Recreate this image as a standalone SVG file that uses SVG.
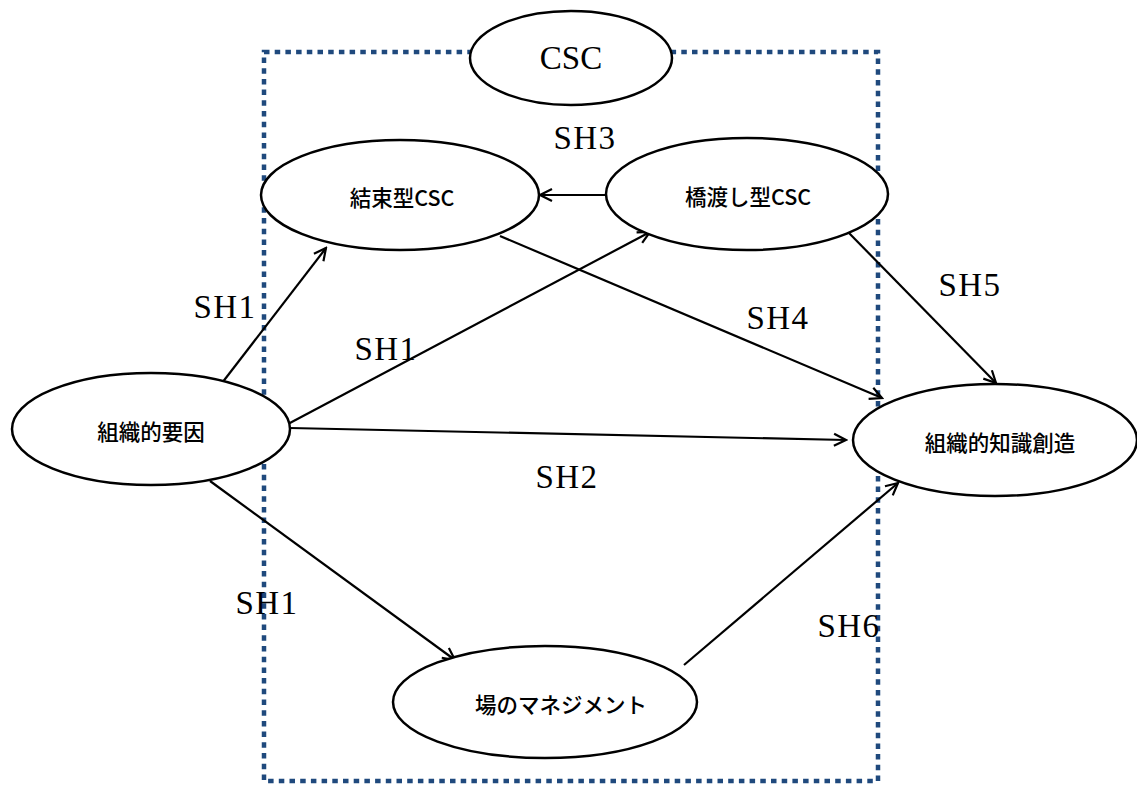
<svg xmlns="http://www.w3.org/2000/svg" width="1137" height="785" viewBox="0 0 1137 785">
<style>
.node ellipse{fill:#fff;stroke:#000;stroke-width:2.5}
.nt{font-family:"Noto Sans CJK JP","Noto Sans CJK SC",sans-serif;font-size:21.5px;font-weight:500;fill:#000;text-anchor:middle;dominant-baseline:central}
.lbl{font-family:"Liberation Serif",serif;font-size:33px;letter-spacing:1.5px;fill:#000;text-anchor:middle}
.conn line{stroke:#000;stroke-width:2.2;marker-end:url(#ah)}
</style>
<defs>
<marker id="ah" viewBox="0 0 16 16" refX="14" refY="8" markerWidth="16" markerHeight="16" markerUnits="userSpaceOnUse" orient="auto">
<path d="M2,2 L14,8 L2,14" fill="none" stroke="#000" stroke-width="2.2"/>
</marker>
</defs>
<rect x="264" y="52" width="614" height="729" fill="none" stroke="#1f497d" stroke-width="4.5" stroke-dasharray="5.5 5.2"/>
<g class="conn">
<line x1="222" y1="383" x2="326" y2="248"/>
<line x1="288" y1="424" x2="650" y2="232"/>
<line x1="290" y1="428" x2="846" y2="440"/>
<line x1="210" y1="481" x2="455" y2="660"/>
<line x1="606" y1="195" x2="540" y2="195"/>
<line x1="500" y1="236" x2="882" y2="398"/>
<line x1="848" y1="232" x2="996" y2="383"/>
<line x1="684" y1="665" x2="898" y2="483"/>
</g>
<g id="csc" class="node"><ellipse cx="571" cy="58" rx="101" ry="47"/><text x="571" y="69" class="lbl" style="letter-spacing:0">CSC</text></g>
<g id="ketsusoku" class="node"><ellipse cx="400" cy="195" rx="139" ry="55"/><text x="402" y="196" class="nt">結束型CSC</text></g>
<g id="hashiwatashi" class="node"><ellipse cx="747" cy="194" rx="141" ry="56"/><text x="748" y="195" class="nt">橋渡し型CSC</text></g>
<g id="soshikiyouin" class="node"><ellipse cx="151" cy="429" rx="139" ry="56"/><text x="151" y="430" class="nt">組織的要因</text></g>
<g id="chishiki" class="node"><ellipse cx="995" cy="440" rx="142" ry="56"/><text x="1000" y="441" class="nt">組織的知識創造</text></g>
<g id="ba" class="node"><ellipse cx="545" cy="702" rx="152" ry="56"/><text x="561" y="703" class="nt">場のマネジメント</text></g>
<g id="labels">
<text x="225" y="318" class="lbl">SH1</text>
<text x="386" y="360" class="lbl">SH1</text>
<text x="567" y="488" class="lbl">SH2</text>
<text x="267" y="614" class="lbl">SH1</text>
<text x="585" y="149" class="lbl">SH3</text>
<text x="778" y="329" class="lbl">SH4</text>
<text x="970" y="296" class="lbl">SH5</text>
<text x="849" y="637" class="lbl">SH6</text>
</g>
</svg>
